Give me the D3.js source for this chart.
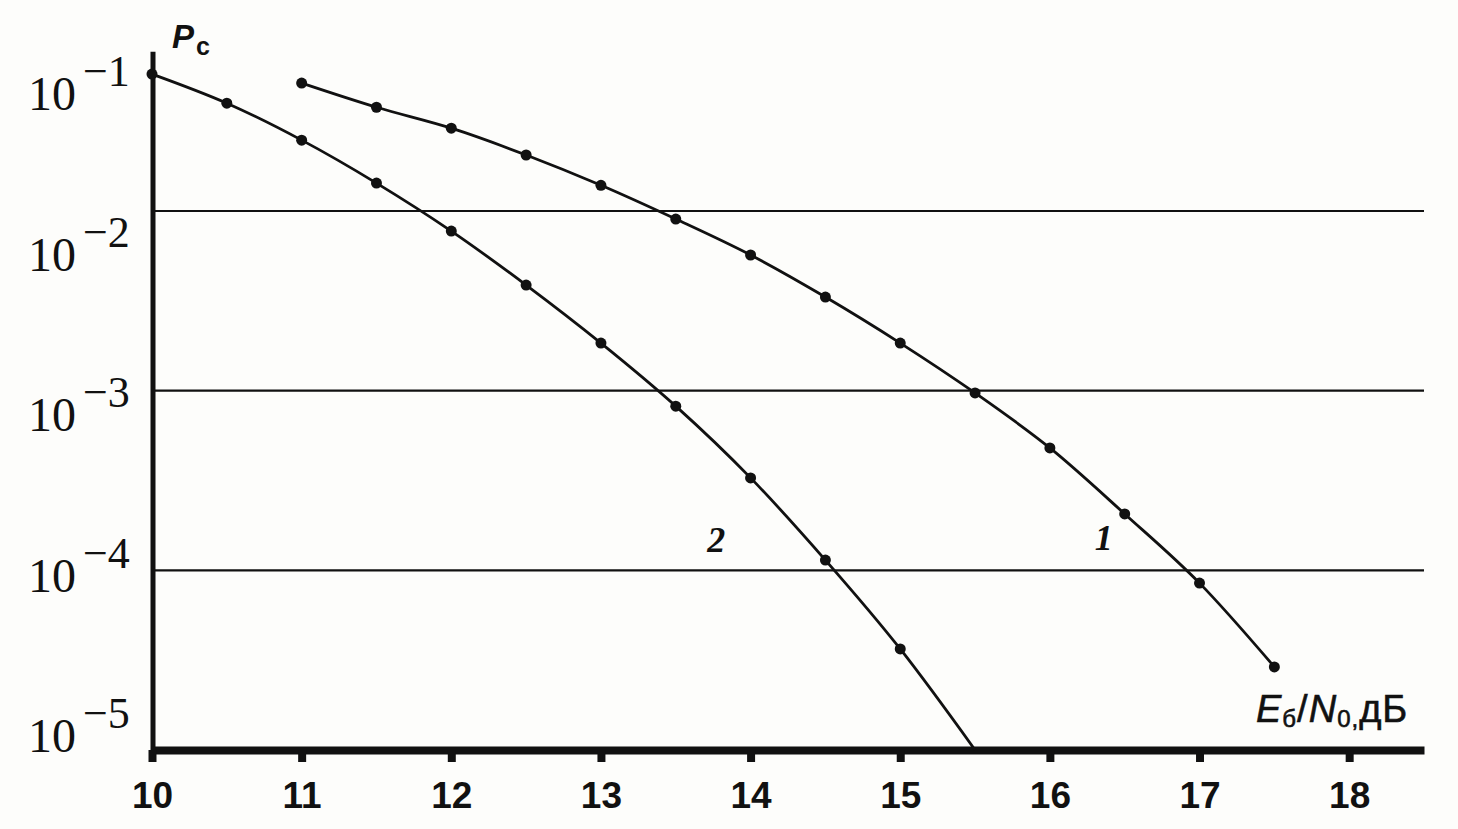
<!DOCTYPE html>
<html>
<head>
<meta charset="utf-8">
<script src="https://cdn.jsdelivr.net/npm/d3@7"></script>
<style>
  body { margin: 0; background: #fdfdfb; }
  svg { display: block; }
</style>
</head>
<body>
<div class="chart-area"></div>
<script>
// Eb/N0 in dB and symbol error probability Pc for the two curves
const snr1 = [11, 11.5, 12, 12.5, 13, 13.5, 14, 14.5, 15, 15.5, 16, 16.5, 17, 17.5];
const pe1 = [0.0515, 0.0378, 0.0289, 0.0205, 0.0139, 0.00902, 0.00569, 0.00332, 0.00184, 0.000971, 0.000480, 0.000206, 0.0000849, 0.0000290];

const snr2 = [10, 10.5, 11, 11.5, 12, 12.5, 13, 13.5, 14, 14.5, 15, 15.5];
const pe2 = [0.0578, 0.0398, 0.0248, 0.0143, 0.00773, 0.00387, 0.00184, 0.000820, 0.000327, 0.000114, 0.0000365, 0.00001];

const xTicks = [10, 11, 12, 13, 14, 15, 16, 17, 18];
const yExps = [-1, -2, -3, -4, -5];
const gridVals = [1e-2, 1e-3, 1e-4];
const curveNames = ["1", "2"];

let width = 1458;
let height = 829;

const svg = d3.select(".chart-area").append("svg")
  .attr("width", width)
  .attr("height", height);

const x = d3.scaleLinear()
  .domain([10, 18.5])
  .range([152, 1424]);

const y = d3.scaleLog()
  .domain([1e-5, 1e-2])
  .range([750, 211]);

// the printed tick labels sit a bit off the gridlines in the original
const yLabel = d3.scaleLog()
  .domain([1e-5, 1e-1])
  .range([752, 110]);

const yTop = 0.077;

// gridlines
svg.append("g")
  .selectAll("line")
  .data(gridVals)
  .join("line")
  .attr("x1", x(10))
  .attr("x2", x(18.5))
  .attr("y1", d => y(d))
  .attr("y2", d => y(d))
  .attr("stroke", "#111")
  .attr("stroke-width", 2.2);

// x axis
const xAxis = svg.append("g")
  .attr("transform", `translate(0,${y(1e-5)})`)
  .call(d3.axisBottom(x).tickValues(xTicks).tickSize(12).tickSizeOuter(0));

xAxis.select(".domain")
  .attr("stroke", "#111")
  .attr("stroke-width", 8);
xAxis.selectAll(".tick line")
  .attr("stroke", "#111")
  .attr("stroke-width", 8);
xAxis.selectAll(".tick text")
  .attr("y", 58)
  .attr("dy", null)
  .attr("fill", "#111")
  .style("font-family", "'Liberation Sans', Arial, sans-serif")
  .style("font-weight", "bold")
  .style("font-size", "37px");

// y axis line
svg.append("line")
  .attr("x1", 153)
  .attr("x2", 153)
  .attr("y1", y(yTop))
  .attr("y2", y(1e-5))
  .attr("stroke", "#111")
  .attr("stroke-width", 5);

// y tick labels 10^k
const yl = svg.append("g")
  .selectAll("text")
  .data(yExps)
  .join("text")
  .attr("x", 28)
  .attr("y", d => yLabel(Math.pow(10, d)))
  .attr("fill", "#111")
  .style("font-family", "'Liberation Serif', 'Times New Roman', serif");

yl.append("tspan")
  .style("font-size", "48px")
  .text("10");
yl.append("tspan")
  .attr("dx", 7)
  .attr("dy", -24)
  .style("font-size", "44px")
  .text(d => "\u2212" + Math.abs(d));

// curves
const line = d3.line()
  .x(d => x(d.snr))
  .y(d => y(d.p))
  .curve(d3.curveMonotoneX);

const series = [
  snr1.map((s, i) => ({snr: s, p: pe1[i]})),
  snr2.map((s, i) => ({snr: s, p: pe2[i]}))
];

svg.append("g")
  .selectAll("path")
  .data(series)
  .join("path")
  .attr("d", line)
  .attr("fill", "none")
  .attr("stroke", "#111")
  .attr("stroke-width", 2.8);

svg.append("g")
  .selectAll("circle")
  .data(series.flat().filter(d => d.p > 1e-5))
  .join("circle")
  .attr("cx", d => x(d.snr))
  .attr("cy", d => y(d.p))
  .attr("r", 5.5)
  .attr("fill", "#111");

// curve numbers
const curveLabelPos = [[16.36, 1.30e-4], [13.77, 1.26e-4]];
svg.append("g")
  .selectAll("text")
  .data(curveNames)
  .join("text")
  .attr("x", (d, i) => x(curveLabelPos[i][0]))
  .attr("y", (d, i) => y(curveLabelPos[i][1]))
  .attr("text-anchor", "middle")
  .attr("fill", "#111")
  .style("font-family", "'Liberation Serif', 'Times New Roman', serif")
  .style("font-style", "italic")
  .style("font-weight", "bold")
  .style("font-size", "36px")
  .text(d => d);

// axis titles
const pc = svg.append("text")
  .attr("x", 172)
  .attr("y", 48)
  .attr("fill", "#111")
  .style("font-family", "'Liberation Sans', Arial, sans-serif")
  .style("font-weight", "bold");
pc.append("tspan").style("font-style", "italic").style("font-size", "33px").text("P");
pc.append("tspan").attr("dx", 2).attr("dy", 7).style("font-size", "25px").text("c");

const xt = svg.append("text")
  .attr("x", 1256)
  .attr("y", 722)
  .attr("fill", "#111")
  .attr("stroke", "#111")
  .attr("stroke-width", 0.6)
  .style("letter-spacing", "1px")
  .style("font-family", "'Liberation Sans', Arial, sans-serif")
  .style("font-size", "38px");
xt.append("tspan").style("font-style", "italic").text("E");
xt.append("tspan").attr("dy", 5).style("font-size", "24px").text("б");
xt.append("tspan").attr("dy", -5).text("/");
xt.append("tspan").style("font-style", "italic").text("N");
xt.append("tspan").attr("dy", 5).style("font-size", "24px").text("0,");
xt.append("tspan").attr("dy", -5).text("дБ");
</script>
</body>
</html>
